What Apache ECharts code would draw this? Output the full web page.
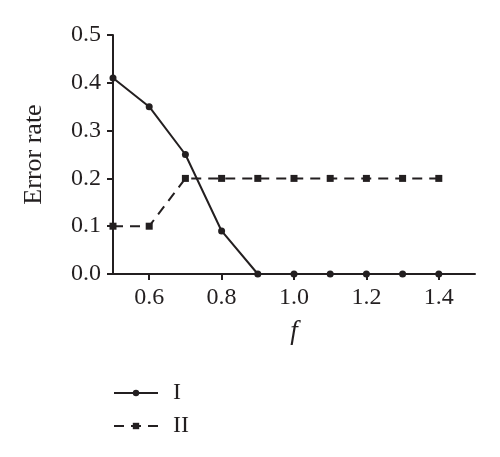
<!DOCTYPE html>
<html>
<head>
<meta charset="utf-8">
<script src="https://cdn.jsdelivr.net/npm/echarts@6/dist/echarts.min.js"></script>
<style>html,body{margin:0;padding:0;background:#fff}#c{width:500px;height:457px}</style>
</head>
<body>
<div id="c"></div>
<script>
var fValues = [0.5, 0.6, 0.7, 0.8, 0.9, 1.0, 1.1, 1.2, 1.3, 1.4];
var seriesI = [0.41, 0.35, 0.25, 0.09, 0, 0, 0, 0, 0, 0];
var seriesII = [0.1, 0.1, 0.2, 0.2, 0.2, 0.2, 0.2, 0.2, 0.2, 0.2];
var xTickLabels = [0.6, 0.8, 1.0, 1.2, 1.4];
var yTickLabels = [0.0, 0.1, 0.2, 0.3, 0.4, 0.5];

var FONT = '"Liberation Serif", "DejaVu Serif", serif';
var INK = '#231f20';

function pairs(xs, ys) { return xs.map(function (x, i) { return [x, ys[i]]; }); }

var chart = echarts.init(document.getElementById('c'), null, {renderer: 'canvas'});
chart.setOption({
  backgroundColor: '#fff',
  animation: false,
  grid: {left: 113, right: 25, top: 35, bottom: 183, containLabel: false},
  xAxis: {
    type: 'value', min: 0.5, max: 1.5,
    name: 'f', nameLocation: 'middle', nameGap: 44,
    nameTextStyle: {fontFamily: FONT, fontStyle: 'italic', fontSize: 27, color: INK},
    axisLine: {show: true, lineStyle: {color: INK, width: 2}},
    axisTick: {show: true, length: 6, lineStyle: {color: INK, width: 2}, customValues: xTickLabels},
    axisLabel: {customValues: xTickLabels, margin: 12, fontFamily: FONT, fontSize: 24, color: INK,
      formatter: function (v) { return Number(v).toFixed(1); }},
    splitLine: {show: false}
  },
  yAxis: {
    type: 'value', min: 0, max: 0.5, interval: 0.1,
    name: 'Error rate', nameLocation: 'middle', nameGap: 66,
    nameTextStyle: {fontFamily: FONT, fontSize: 26, color: INK},
    axisLine: {show: true, lineStyle: {color: INK, width: 2}},
    axisTick: {show: true, length: 6, lineStyle: {color: INK, width: 2}},
    axisLabel: {margin: 12, fontFamily: FONT, fontSize: 24, color: INK,
      formatter: function (v) { return Number(v).toFixed(1); }},
    splitLine: {show: false}
  },
  legend: {
    orient: 'vertical', left: 113, top: 381, padding: 0, itemWidth: 44, itemHeight: 8, itemGap: 9,
    textStyle: {fontFamily: FONT, fontSize: 24, color: INK, padding: [0, 0, 0, 10]},
    data: ['I', 'II']
  },
  series: [
    {name: 'I', type: 'line', data: pairs(fValues, seriesI), symbol: 'circle', symbolSize: 7,
      lineStyle: {color: INK, width: 2, type: 'solid'}, itemStyle: {color: INK}, z: 3},
    {name: 'II', type: 'line', data: pairs(fValues, seriesII), symbol: 'rect', symbolSize: 7,
      lineStyle: {color: INK, width: 2, type: [10, 7]}, itemStyle: {color: INK}, z: 2}
  ]
});
</script>
</body>
</html>
